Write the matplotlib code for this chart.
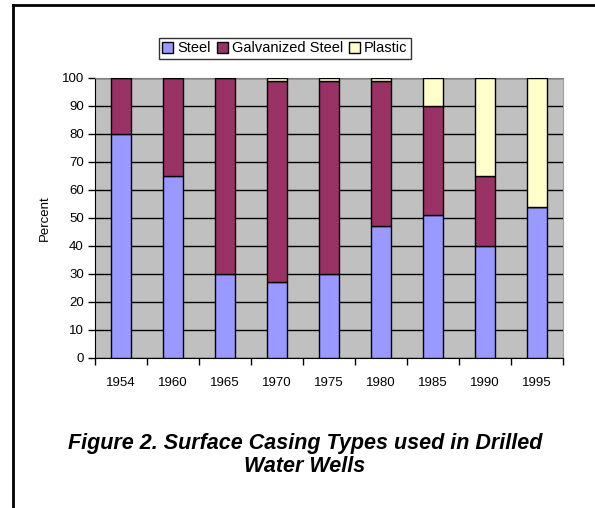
import matplotlib
matplotlib.use("Agg")
import matplotlib.pyplot as plt
import numpy as np

plt.rcParams['font.family'] = ['Liberation Sans', 'DejaVu Sans']

years = ['1954', '1960', '1965', '1970', '1975', '1980', '1985', '1990', '1995']
steel = [80, 65, 30, 27, 30, 47, 51, 40, 54]
galvanized = [20, 35, 70, 72, 69, 52, 39, 25, 0]
plastic = [0, 0, 0, 1, 1, 1, 10, 35, 46]

fig = plt.figure(figsize=(5.95, 5.08), dpi=100)
ax = fig.add_axes([95/595, 150/508, (563-95)/595, (358-78)/508])
ax.set_facecolor('#C0C0C0')

x = np.arange(len(years))
w = 0.4
steel_a = np.array(steel)
galv_a = np.array(galvanized)
ax.bar(x, steel, w, color='#9999FF', edgecolor='black', linewidth=1, label='Steel', zorder=3)
ax.bar(x, galvanized, w, bottom=steel_a, color='#993366', edgecolor='black', linewidth=1,
       label='Galvanized Steel', zorder=3)
ax.bar(x, plastic, w, bottom=steel_a + galv_a, color='#FFFFCC', edgecolor='black', linewidth=1,
       label='Plastic', zorder=3)

ax.set_xlim(-0.5, len(years) - 0.5)
ax.set_ylim(0, 100)
ax.set_yticks(range(0, 101, 10))
ax.yaxis.grid(True, color='black', linewidth=1)
ax.set_axisbelow(True)
ax.tick_params(axis='y', direction='out', length=5, width=1, labelsize=9.5, pad=3)

ax.set_xticks(x)
ax.set_xticklabels(years)
ax.set_xticks(np.arange(-0.5, len(years), 1), minor=True)
ax.tick_params(axis='x', which='major', length=0, labelsize=9.5, pad=14)
ax.tick_params(axis='x', which='minor', direction='out', length=5, width=1)

ax.spines['left'].set_color('black')
ax.spines['bottom'].set_color('black')
ax.spines['top'].set_color('#808080')
ax.spines['right'].set_color('#A0A0A0')

ax.set_ylabel('Percent', fontsize=9.5, labelpad=8)

leg = ax.legend(loc='center', bbox_to_anchor=(285/595, 1 - 48.5/508), bbox_transform=fig.transFigure,
                ncol=3, frameon=True, fancybox=False, fontsize=10.5, handlelength=0.75,
                handleheight=0.75, handletextpad=0.25, columnspacing=0.45, borderpad=0.25,
                borderaxespad=0)
leg.get_frame().set_edgecolor('black')
leg.get_frame().set_linewidth(1)

title_style = dict(ha='center', va='center', fontsize=15.5, fontweight='bold', fontstyle='italic')
fig.text(305/595, 1 - 443/508, 'Figure 2. Surface Casing Types used in Drilled', **title_style)
fig.text(305/595, 1 - 467/508, 'Water Wells', **title_style)

# outer frame (left and top edges visible)
fig.add_artist(plt.Line2D([13/595, 13/595], [0, 1 - 5/508], transform=fig.transFigure,
                          color='black', linewidth=2))
fig.add_artist(plt.Line2D([13/595, 1], [1 - 5/508, 1 - 5/508], transform=fig.transFigure,
                          color='black', linewidth=2))

fig.savefig('out.png', dpi=100)
